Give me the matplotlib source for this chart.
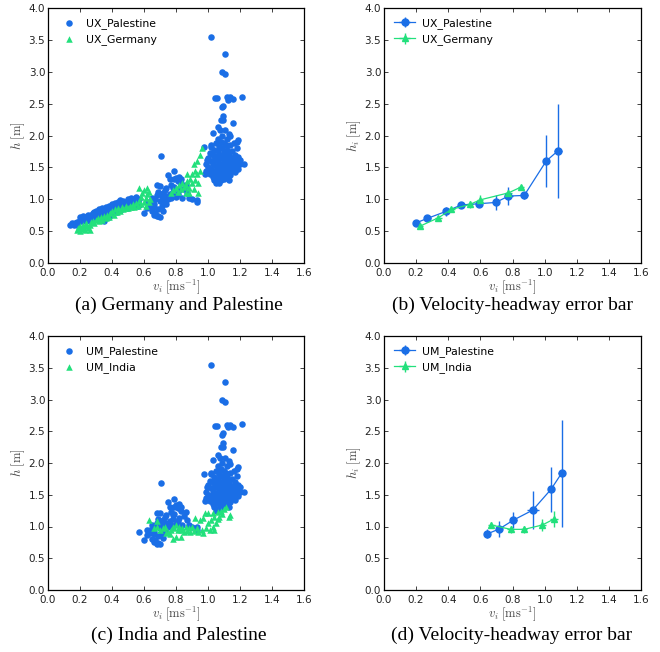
import matplotlib
matplotlib.use('Agg')
import matplotlib.pyplot as plt
import numpy as np

plt.rcParams['font.family'] = ['DejaVu Sans']
plt.rcParams['mathtext.fontset'] = 'cm'

BLUE = '#1a6ee6'
GREEN = '#22e07c'

# ---- scatter data: Palestine (shared by both comparisons) ----
pal_low_v = [0.14, 0.15, 0.16, 0.17, 0.18, 0.19, 0.20, 0.20, 0.21, 0.22,
             0.22, 0.23, 0.24, 0.25, 0.25, 0.26, 0.27, 0.28, 0.28, 0.29,
             0.30, 0.30, 0.31, 0.32, 0.33, 0.33, 0.34, 0.35, 0.35, 0.36,
             0.37, 0.37, 0.38, 0.39, 0.40, 0.40, 0.41, 0.42, 0.43, 0.43,
             0.44, 0.45, 0.46, 0.47, 0.48, 0.49, 0.50, 0.50, 0.51, 0.52,
             0.53, 0.54, 0.55, 0.56, 0.57, 0.38, 0.26, 0.31, 0.46, 0.53,
             0.27, 0.45, 0.24, 0.34, 0.42, 0.48, 0.55, 0.18, 0.29, 0.36]
pal_low_h = [0.60, 0.62, 0.60, 0.63, 0.65, 0.62, 0.68, 0.72, 0.66, 0.70,
             0.74, 0.68, 0.72, 0.70, 0.75, 0.73, 0.76, 0.72, 0.78, 0.80,
             0.75, 0.82, 0.78, 0.84, 0.80, 0.70, 0.86, 0.82, 0.66, 0.88,
             0.84, 0.74, 0.90, 0.86, 0.92, 0.78, 0.88, 0.94, 0.90, 0.80,
             0.96, 0.92, 0.84, 0.98, 0.94, 0.90, 1.00, 0.86, 0.96, 1.02,
             0.92, 0.98, 1.03, 0.90, 1.00, 0.72, 0.66, 0.68, 0.96, 1.00,
             0.70, 0.99, 0.66, 0.76, 0.84, 0.88, 0.95, 0.60, 0.72, 0.80]

pal_mid_v = [0.57, 0.60, 0.62, 0.64, 0.65, 0.66, 0.67, 0.68, 0.69, 0.70,
             0.70, 0.68, 0.705, 0.72, 0.73, 0.74, 0.75, 0.75, 0.76, 0.77,
             0.78, 0.79, 0.80, 0.81, 0.82, 0.83, 0.79, 0.83, 0.86, 0.87,
             0.88, 0.93, 0.93, 0.64, 0.66, 0.67, 0.69, 0.71, 0.72, 0.73,
             0.65, 0.68, 0.70, 0.72, 0.74, 0.76, 0.78, 0.80, 0.82, 0.84,
             0.66, 0.69, 0.71, 0.74, 0.77, 0.79, 0.81, 0.85, 0.90, 0.62]
pal_mid_h = [0.91, 0.79, 0.87, 0.89, 0.81, 0.76, 0.79, 0.73, 0.74, 0.72,
             1.21, 1.22, 1.68, 1.10, 1.15, 1.05, 1.00, 1.38, 1.31, 1.23,
             1.18, 1.31, 1.34, 1.29, 1.35, 1.31, 1.44, 1.25, 1.23, 1.10,
             1.02, 0.99, 0.95, 0.95, 0.92, 1.00, 0.85, 0.90, 0.82, 0.96,
             1.02, 1.06, 0.98, 1.00, 0.92, 1.08, 1.12, 1.04, 1.14, 1.02,
             0.88, 1.12, 1.05, 1.18, 1.02, 1.20, 1.08, 1.16, 1.00, 0.95]

pal_high_v = [1.017, 1.109, 1.086, 1.107, 1.045, 1.059, 1.117, 1.138, 1.126, 1.155,
              1.211, 1.088, 1.096, 1.096, 1.092, 1.082, 1.155, 1.060, 1.034, 1.076,
              1.107, 1.134, 1.138, 1.184, 1.190, 0.972, 1.017, 1.226, 0.986, 0.980,
              0.99, 1.00, 1.00, 1.01, 1.01, 1.02, 1.02, 1.02, 1.03, 1.03,
              1.03, 1.04, 1.04, 1.04, 1.04, 1.05, 1.05, 1.05, 1.05, 1.06,
              1.06, 1.06, 1.06, 1.06, 1.07, 1.07, 1.07, 1.07, 1.08, 1.08,
              1.08, 1.08, 1.08, 1.09, 1.09, 1.09, 1.09, 1.09, 1.10, 1.10,
              1.10, 1.10, 1.10, 1.11, 1.11, 1.11, 1.11, 1.12, 1.12, 1.12,
              1.12, 1.12, 1.13, 1.13, 1.13, 1.14, 1.14, 1.14, 1.14, 1.15,
              1.15, 1.15, 1.16, 1.16, 1.16, 1.17, 1.17, 1.17, 1.18, 1.18,
              1.18, 1.19, 1.19, 1.20, 1.20, 1.13, 1.07, 1.02, 0.995, 1.05]
pal_high_h = [3.54, 3.28, 2.99, 2.96, 2.59, 2.59, 2.60, 2.60, 2.56, 2.57,
              2.61, 2.44, 2.47, 2.31, 2.25, 2.25, 2.20, 2.13, 2.04, 2.08,
              2.08, 2.03, 1.99, 1.90, 1.93, 1.82, 1.85, 1.55, 1.45, 1.40,
              1.55, 1.65, 1.50, 1.72, 1.40, 1.60, 1.48, 1.82, 1.35, 1.55,
              1.70, 1.45, 1.62, 1.78, 1.30, 1.52, 1.68, 1.88, 1.38, 1.28,
              1.45, 1.60, 1.75, 1.95, 1.35, 1.50, 1.66, 1.82, 1.30, 1.42,
              1.56, 1.70, 1.90, 1.38, 1.52, 1.64, 1.80, 2.00, 1.32, 1.46,
              1.58, 1.74, 1.88, 1.40, 1.55, 1.68, 1.85, 1.35, 1.50, 1.62,
              1.78, 1.95, 1.44, 1.58, 1.72, 1.38, 1.52, 1.66, 1.85, 1.46,
              1.60, 1.75, 1.50, 1.64, 1.88, 1.42, 1.56, 1.70, 1.52, 1.62,
              1.80, 1.48, 1.66, 1.55, 1.62, 1.30, 1.26, 1.42, 1.62, 1.25]

# ---- scatter data: Germany ----
ger_v = [0.18, 0.19, 0.20, 0.20, 0.21, 0.22, 0.22, 0.23, 0.24, 0.24,
         0.25, 0.26, 0.26, 0.27, 0.28, 0.29, 0.30, 0.31, 0.32, 0.33,
         0.34, 0.35, 0.36, 0.37, 0.38, 0.39, 0.40, 0.41, 0.42, 0.43,
         0.44, 0.45, 0.46, 0.47, 0.48, 0.49, 0.50, 0.51, 0.52, 0.53,
         0.54, 0.55, 0.56, 0.57, 0.57, 0.58, 0.58, 0.59, 0.60, 0.60,
         0.61, 0.61, 0.62, 0.62, 0.63, 0.63, 0.64, 0.77, 0.78, 0.80,
         0.81, 0.82, 0.83, 0.84, 0.85, 0.86, 0.87, 0.87, 0.88, 0.89,
         0.90, 0.90, 0.91, 0.91, 0.92, 0.92, 0.93, 0.93, 0.94, 0.94,
         0.95, 0.95, 0.96, 0.86, 0.88]
ger_h = [0.52, 0.55, 0.50, 0.58, 0.53, 0.60, 0.55, 0.52, 0.58, 0.62,
         0.55, 0.60, 0.52, 0.64, 0.66, 0.62, 0.68, 0.70, 0.66, 0.72,
         0.68, 0.74, 0.70, 0.76, 0.72, 0.78, 0.82, 0.76, 0.84, 0.80,
         0.86, 0.82, 0.88, 0.84, 0.86, 0.90, 0.86, 0.90, 0.88, 0.92,
         0.88, 0.94, 0.90, 0.98, 1.17, 1.04, 0.92, 1.10, 0.96, 1.15,
         1.02, 0.90, 1.08, 1.17, 1.12, 0.95, 1.00, 1.10, 1.15, 1.18,
         1.12, 1.22, 1.16, 1.26, 1.20, 1.10, 1.28, 1.40, 1.18, 1.32,
         1.40, 1.25, 1.55, 1.16, 1.45, 1.30, 1.60, 1.40, 1.25, 1.10,
         1.70, 1.45, 1.80, 1.22, 1.10]

# ---- scatter data: India ----
ind_v = [0.63, 0.66, 0.68, 0.68, 0.70, 0.72, 0.73, 0.74, 0.75, 0.76,
         0.77, 0.78, 0.78, 0.79, 0.80, 0.80, 0.81, 0.82, 0.83, 0.83,
         0.84, 0.85, 0.86, 0.87, 0.88, 0.89, 0.90, 0.91, 0.92, 0.93,
         0.94, 0.95, 0.96, 0.97, 0.98, 0.99, 1.00, 1.00, 1.01, 1.02,
         1.03, 1.03, 1.04, 1.05, 1.06, 1.06, 1.07, 1.08, 1.09, 1.10,
         1.11, 1.13, 1.14, 0.97, 1.04]
ind_h = [1.10, 0.98, 1.08, 0.99, 0.95, 0.97, 1.00, 0.89, 0.92, 0.88,
         0.95, 0.81, 1.00, 0.98, 0.84, 1.03, 0.95, 1.00, 0.83, 0.94,
         0.98, 0.92, 1.00, 0.93, 0.97, 0.92, 1.00, 0.93, 1.13, 0.98,
         0.92, 1.10, 0.95, 0.90, 1.22, 0.97, 1.05, 1.22, 0.95, 1.10,
         1.00, 1.22, 0.95, 1.05, 1.12, 1.23, 1.15, 1.24, 1.20, 1.28,
         1.30, 1.15, 1.18, 1.13, 1.15]

# ---- binned means with error bars ----
ux_pal_v = [0.20, 0.27, 0.387, 0.48, 0.592, 0.696, 0.775, 0.873, 1.01, 1.083]
ux_pal_h = [0.63, 0.70, 0.81, 0.91, 0.93, 0.95, 1.05, 1.06, 1.60, 1.76]
ux_pal_herr = [0.03, 0.04, 0.07, 0.05, 0.04, 0.12, 0.14, 0.05, 0.41, 0.74]
ux_pal_verr = [0.015, 0.02, 0.02, 0.02, 0.02, 0.02, 0.025, 0.025, 0.02, 0.024]

ux_ger_v = [0.226, 0.339, 0.42, 0.536, 0.598, 0.775, 0.852]
ux_ger_h = [0.58, 0.71, 0.84, 0.92, 0.99, 1.10, 1.19]
ux_ger_herr = [0.03, 0.03, 0.03, 0.05, 0.07, 0.05, 0.04]
ux_ger_verr = [0.015, 0.02, 0.02, 0.02, 0.02, 0.02, 0.02]

um_pal_v = [0.644, 0.717, 0.805, 0.926, 1.04, 1.106]
um_pal_h = [0.885, 0.96, 1.10, 1.258, 1.586, 1.84]
um_pal_herr = [0.07, 0.12, 0.13, 0.30, 0.35, 0.84]
um_pal_verr = [0.015, 0.02, 0.02, 0.036, 0.02, 0.02]

um_ind_v = [0.668, 0.788, 0.873, 0.986, 1.06]
um_ind_h = [1.024, 0.955, 0.955, 1.024, 1.12]
um_ind_herr = [0.04, 0.06, 0.05, 0.09, 0.12]
um_ind_verr = [0.02, 0.02, 0.02, 0.02, 0.025]


def style_axes(ax, ylabel):
    ax.set_xlim(0, 1.6)
    ax.set_ylim(0, 4.0)
    ax.set_xticks(np.arange(0, 1.61, 0.2))
    ax.set_yticks(np.arange(0, 4.01, 0.5))
    ax.xaxis.set_major_formatter(matplotlib.ticker.FormatStrFormatter('%.1f'))
    ax.yaxis.set_major_formatter(matplotlib.ticker.FormatStrFormatter('%.1f'))
    ax.tick_params(direction='in', top=True, right=True, length=3, width=0.6,
                   labelsize=7.5, colors='#222222', pad=2)
    ax.tick_params(axis='x', pad=3.5)
    for s in ax.spines.values():
        s.set_linewidth(0.9)
    ax.set_xlabel(r'$v_i\ [\mathrm{ms}^{-1}]$', fontsize=9, color='#444444', labelpad=0)
    ax.set_ylabel(ylabel, fontsize=9, color='#444444', labelpad=1)


def scatter_panel(ax, bv, bh, blabel, gv, gh, glabel):
    ax.scatter(bv, bh, s=22, c=BLUE, marker='o', linewidths=0, label=blabel)
    ax.scatter(gv, gh, s=22, c=GREEN, marker='^', linewidths=0, label=glabel)
    style_axes(ax, r'$h\ [\mathrm{m}]$')
    ax.legend(loc='upper left', frameon=False, fontsize=7.8, scatterpoints=1,
              handletextpad=0.6)


def errorbar_panel(ax, series):
    for v, h, herr, verr, color, marker, label in series:
        ax.errorbar(v, h, yerr=herr, xerr=verr, color=color, marker=marker,
                    markersize=5, linewidth=0.9, elinewidth=1.0, capsize=0,
                    label=label)
    style_axes(ax, r'$h_i\ [\mathrm{m}]$')
    ax.legend(loc='upper left', frameon=False, fontsize=7.8, handletextpad=0.6)


fig = plt.figure(figsize=(6.6, 6.52), dpi=100)

ax_a = fig.add_axes([48 / 660, 1 - 263 / 652, 256 / 660, 255 / 652])
ax_b = fig.add_axes([384 / 660, 1 - 263 / 652, 257 / 660, 255 / 652])
ax_c = fig.add_axes([48 / 660, 1 - 590 / 652, 256 / 660, 254 / 652])
ax_d = fig.add_axes([384 / 660, 1 - 590 / 652, 257 / 660, 254 / 652])

scatter_panel(ax_a, pal_low_v + pal_mid_v + pal_high_v,
              pal_low_h + pal_mid_h + pal_high_h, 'UX_Palestine',
              ger_v, ger_h, 'UX_Germany')
scatter_panel(ax_c, pal_mid_v + pal_high_v, pal_mid_h + pal_high_h,
              'UM_Palestine', ind_v, ind_h, 'UM_India')

errorbar_panel(ax_b, [
    (ux_pal_v, ux_pal_h, ux_pal_herr, ux_pal_verr, BLUE, 'o', 'UX_Palestine'),
    (ux_ger_v, ux_ger_h, ux_ger_herr, ux_ger_verr, GREEN, '^', 'UX_Germany'),
])
errorbar_panel(ax_d, [
    (um_pal_v, um_pal_h, um_pal_herr, um_pal_verr, BLUE, 'o', 'UM_Palestine'),
    (um_ind_v, um_ind_h, um_ind_herr, um_ind_verr, GREEN, '^', 'UM_India'),
])

captions = [
    (179, 305, '(a) Germany and Palestine'),
    (512, 305, '(b) Velocity-headway error bar'),
    (179, 635, '(c) India and Palestine'),
    (512, 635, '(d) Velocity-headway error bar'),
]
for x, y, text in captions:
    fig.text(x / 660, 1 - y / 652, text, ha='center', va='center',
             fontsize=14, family='Liberation Serif')

fig.savefig('out.png', dpi=100)
plt.close(fig)
